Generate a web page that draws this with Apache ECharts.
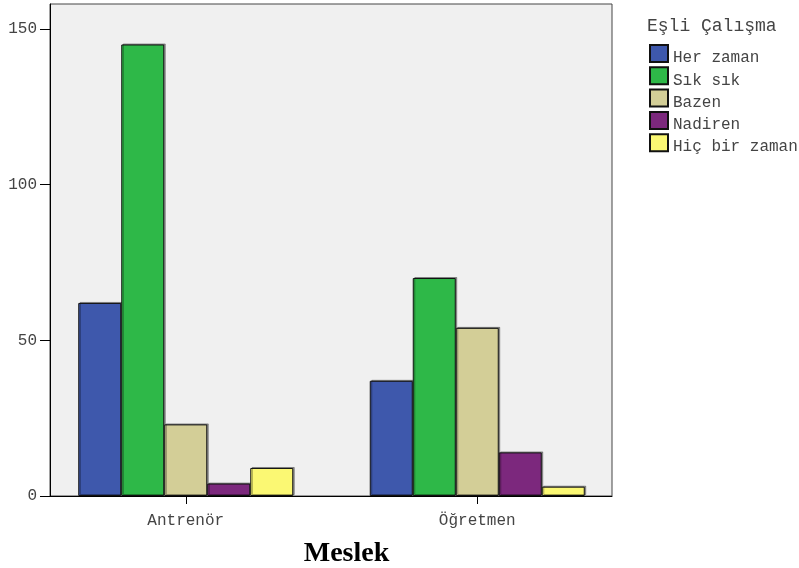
<!DOCTYPE html>
<html>
<head>
<meta charset="utf-8">
<script src="https://cdn.jsdelivr.net/npm/echarts@6/dist/echarts.min.js"></script>
<style>
html,body{margin:0;padding:0;background:#fff;}
#c{width:799px;height:568px;}
</style>
</head>
<body>
<div id="c"></div>
<script>
const categories = ['Antrenör', 'Öğretmen'];
const seriesNames = ['Her zaman', 'Sık sık', 'Bazen', 'Nadiren', 'Hiç bir zaman'];
const herZaman = [62, 37];
const sikSik = [145, 70];
const bazen = [23, 54];
const nadiren = [4, 14];
const hicBirZaman = [9, 3];
const yTicks = [0, 50, 100, 150];
const colors = ['#3E58AC', '#2EB848', '#D3CE97', '#7C287D', '#FBF873'];
const values = [herZaman, sikSik, bazen, nadiren, hicBirZaman];

const mono = '"Liberation Mono", "DejaVu Sans Mono", monospace';
const chart = echarts.init(document.getElementById('c'), null, {renderer: 'canvas'});

const option = {
  animation: false,
  title: {
    text: 'Eşli Çalışma',
    left: 642,
    top: 12,
    textStyle: {fontFamily: mono, fontSize: 18, fontWeight: 'normal', color: '#444'}
  },
  legend: {
    orient: 'vertical',
    left: 649,
    top: 44,
    itemWidth: 18,
    itemHeight: 17,
    itemGap: 0.3,
    icon: 'rect',
    padding: 0,
    data: seriesNames,
    formatter: '{t|{name}}',
    textStyle: {fontFamily: mono, fontSize: 16, color: '#444',
      rich: {t: {fontFamily: mono, fontSize: 16, color: '#444', padding: [9, 0, 0, 0]}}}
  },
  grid: [
    {left: 50, top: 4, width: 562, height: 492, show: true, backgroundColor: '#F0F0F0', borderColor: '#444', borderWidth: 1, containLabel: false, outerBoundsMode: 'none'},
    {left: 40, top: 4, width: 583, height: 492, containLabel: false, outerBoundsMode: 'none'}
  ],
  xAxis: [
    {gridIndex: 0, type: 'value', min: 0, max: 1, axisLine: {show: true, lineStyle: {color: '#000', width: 1}}, axisTick: {show: false}, axisLabel: {show: false}, splitLine: {show: false}},
    {gridIndex: 1, type: 'category', data: categories,
      axisLine: {show: false},
      axisTick: {show: true, alignWithLabel: true, length: 8, lineStyle: {color: '#000'}},
      axisLabel: {fontFamily: mono, fontSize: 16, color: '#444', margin: 17},
      name: 'Meslek', nameLocation: 'middle', nameGap: 44,
      nameTextStyle: {fontFamily: '"Liberation Serif", "Times New Roman", serif', fontSize: 28, fontWeight: 'bold', color: '#000', padding: [0, 0, 0, 30]}
    }
  ],
  yAxis: [
    {gridIndex: 0, type: 'value', min: 0, max: 158, interval: 50,
      axisLine: {show: true, lineStyle: {color: '#000', width: 1}},
      axisLabel: {fontFamily: mono, fontSize: 16, color: '#444', margin: 13,
        customValues: yTicks, formatter: v => String(v)},
      axisTick: {show: true, length: 10, lineStyle: {color: '#000'}, customValues: yTicks},
      splitLine: {show: false}
    },
    {gridIndex: 1, type: 'value', min: 0, max: 158, show: false, splitLine: {show: false}}
  ],
  series: seriesNames.map((name, i) => ({
    name: name,
    type: 'bar',
    xAxisIndex: 1,
    yAxisIndex: 1,
    data: values[i],
    barWidth: 43,
    barGap: '0%',
    itemStyle: {color: colors[i], borderColor: '#111', borderWidth: 1,
      shadowColor: 'rgba(0,0,0,0.35)', shadowOffsetX: 1.5, shadowOffsetY: -1, shadowBlur: 0}
  }))
};
chart.setOption(option);
</script>
</body>
</html>
